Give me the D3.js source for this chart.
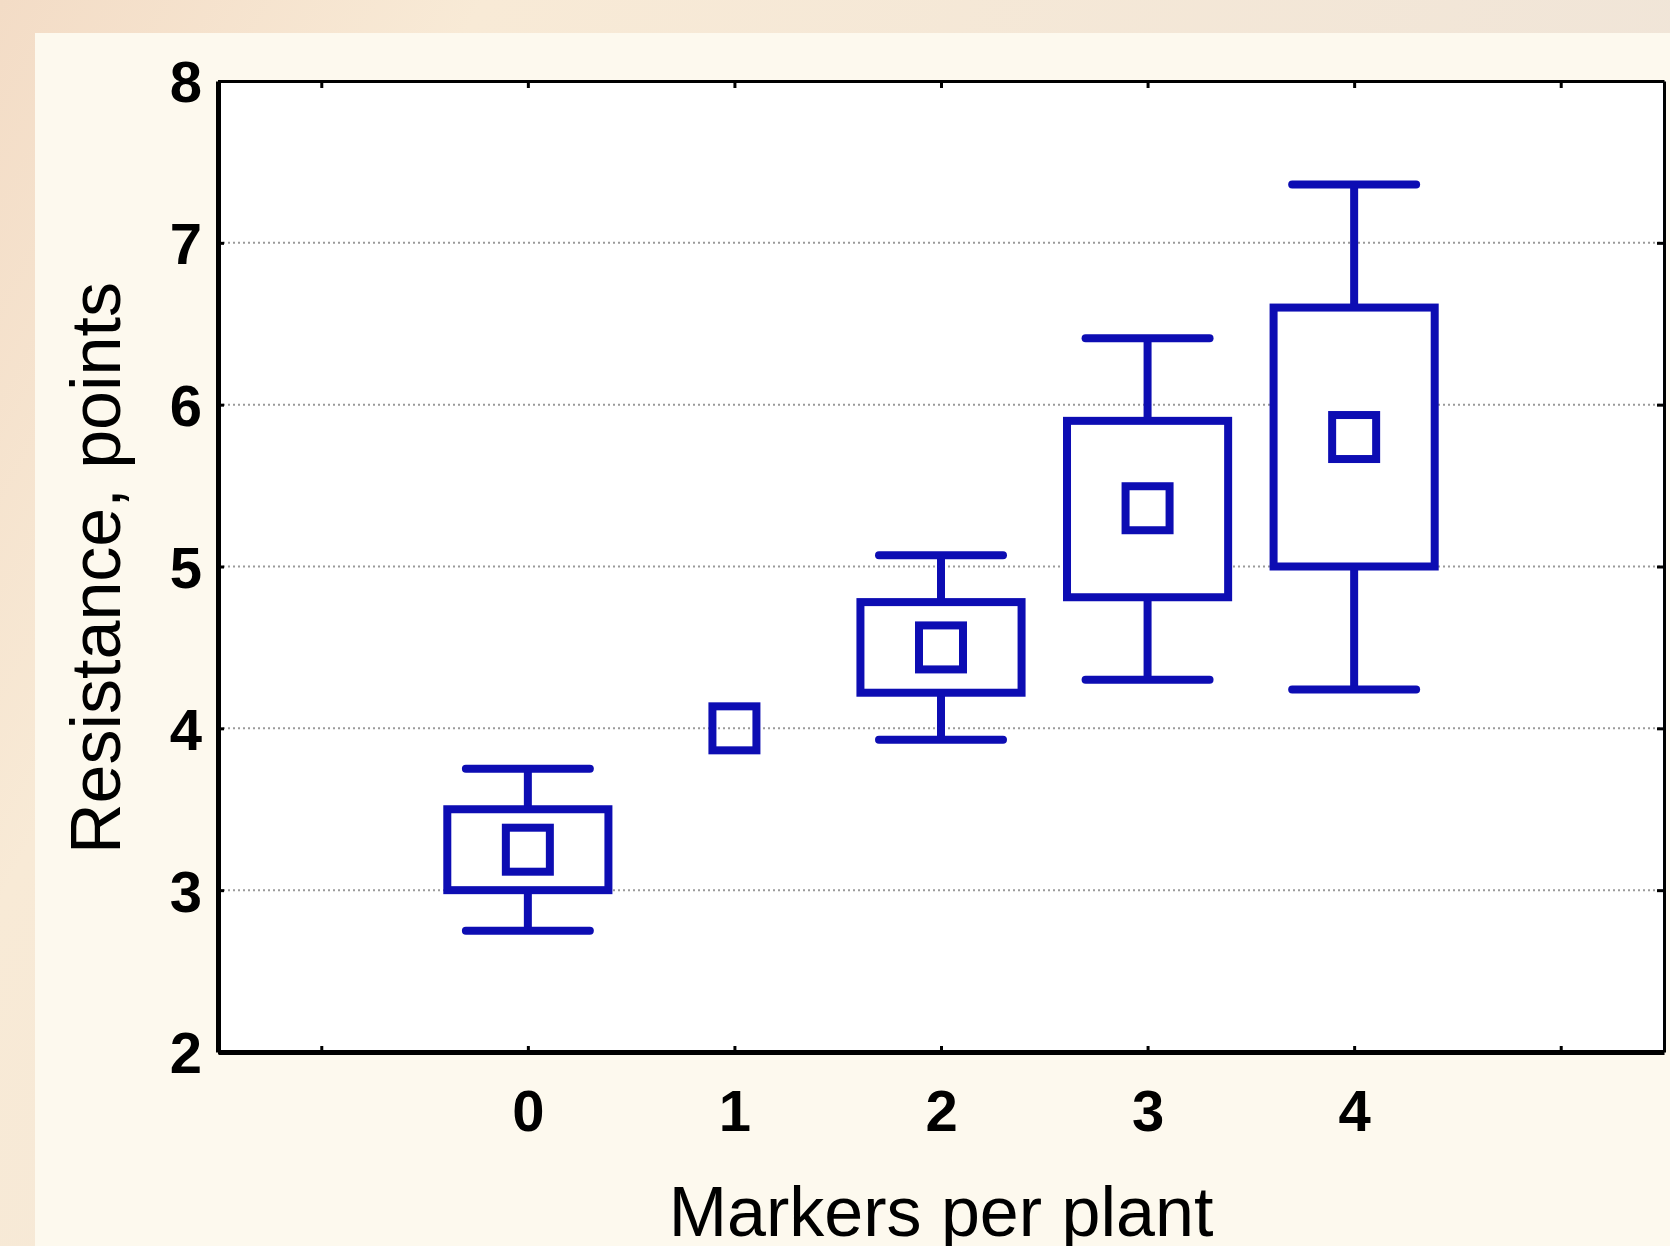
<!DOCTYPE html>
<html lang="en">
<head>
    <meta charset="UTF-8">
    <title>Resistance by markers per plant</title>
    <script src="https://d3js.org/d3.v7.min.js"></script>
    <style>
        body { margin: 0; background: #f4e6d6; }
        svg { display: block; }
        .tick text { font-family: "Liberation Sans", Arial, sans-serif; font-weight: bold; font-size: 58px; fill: #000; }
        .title { font-family: "Liberation Sans", Arial, sans-serif; font-size: 70px; fill: #000; }
    </style>
</head>
<body>
    <div id="chart"></div>

    <script>
        // values
        const categories = [0, 1, 2, 3, 4];
        const whiskerHigh = [3.75, null, 5.07, 6.41, 7.36];
        const boxHigh = [3.5, null, 4.78, 5.9, 6.6];
        const means = [3.25, 4.0, 4.5, 5.36, 5.8];
        const boxLow = [3.0, null, 4.22, 4.81, 5.0];
        const whiskerLow = [2.75, null, 3.93, 4.3, 4.24];
        const yTicks = [2, 3, 4, 5, 6, 7, 8];
        const frameTicks = [-1, 0, 1, 2, 3, 4, 5];

        const W = 1670, H = 1246;
        const mLeft = 218, mRight = 1664, mTop = 81, mBottom = 1052;
        const blue = "#0d0db3";

        const svg = d3.select("#chart").append("svg")
            .attr("width", W).attr("height", H);

        // backdrop
        const defs = svg.append("defs");
        const grad = defs.append("linearGradient").attr("id", "bg")
            .attr("x1", 0).attr("y1", 0).attr("x2", 1).attr("y2", 0.4);
        grad.append("stop").attr("offset", "0%").attr("stop-color", "#f3dcc6");
        grad.append("stop").attr("offset", "25%").attr("stop-color", "#f8ead6");
        grad.append("stop").attr("offset", "100%").attr("stop-color", "#efe4d8");
        svg.append("rect").attr("width", W).attr("height", H).attr("fill", "url(#bg)");
        svg.append("rect").attr("x", 35).attr("y", 33).attr("width", W - 35).attr("height", H - 33)
            .attr("fill", "#fdf9ee");

        const x = d3.scaleLinear().domain([-1.5, 5.5]).range([mLeft, mRight]);
        const y = d3.scaleLinear().domain([2, 8]).range([mBottom, mTop]);

        svg.append("rect").attr("x", mLeft).attr("y", mTop)
            .attr("width", mRight - mLeft).attr("height", mBottom - mTop).attr("fill", "#fff");

        // dotted grid
        svg.append("g").selectAll("line")
            .data(yTicks.filter(d => d > 2 && d < 8))
            .join("line")
            .attr("x1", mLeft).attr("x2", mRight)
            .attr("y1", d => y(d)).attr("y2", d => y(d))
            .attr("stroke", "#9a9a9a").attr("stroke-width", 2)
            .attr("stroke-dasharray", "2,3");

        // axes
        const xAxis = svg.append("g").attr("transform", `translate(0,${mBottom})`)
            .call(d3.axisBottom(x).tickValues(frameTicks).tickSizeInner(-6).tickSizeOuter(0)
                .tickPadding(38).tickFormat(d => categories.includes(d) ? d : ""));
        const yAxis = svg.append("g").attr("transform", `translate(${mLeft},0)`)
            .call(d3.axisLeft(y).tickValues(yTicks).tickSizeInner(-6).tickSizeOuter(0)
                .tickPadding(16).tickFormat(d3.format("d")));
        svg.append("g").attr("transform", `translate(0,${mTop})`)
            .call(d3.axisTop(x).tickValues(frameTicks).tickSizeInner(-7).tickSizeOuter(0).tickFormat(""));
        svg.append("g").attr("transform", `translate(${mRight},0)`)
            .call(d3.axisRight(y).tickValues(yTicks).tickSizeInner(-7).tickSizeOuter(0).tickFormat(""));

        svg.selectAll(".domain").attr("stroke", "#000").attr("stroke-width", 3);
        svg.selectAll(".tick line").attr("stroke", "#000").attr("stroke-width", 3);
        xAxis.select(".domain").attr("stroke-width", 5);
        yAxis.select(".domain").attr("stroke-width", 5);
        yAxis.selectAll(".tick text").attr("dy", "0.36em");

        // box plots
        const boxW = 0.78, capW = 0.6, markSize = 44;
        const groups = categories.map((c, i) => ({
            c, wh: whiskerHigh[i], bh: boxHigh[i], m: means[i], bl: boxLow[i], wl: whiskerLow[i]
        }));
        const plot = svg.append("g").attr("fill", "none").attr("stroke", blue).attr("stroke-width", 8);
        const withBox = groups.filter(d => d.bh != null);

        plot.selectAll(".whisker")
            .data(withBox.flatMap(d => [[d.c, d.bh, d.wh], [d.c, d.bl, d.wl]]))
            .join("line").attr("class", "whisker")
            .attr("x1", d => x(d[0])).attr("x2", d => x(d[0]))
            .attr("y1", d => y(d[1])).attr("y2", d => y(d[2]));

        plot.selectAll(".cap")
            .data(withBox.flatMap(d => [[d.c, d.wh], [d.c, d.wl]]))
            .join("line").attr("class", "cap")
            .attr("stroke-linecap", "round")
            .attr("x1", d => x(d[0] - capW / 2)).attr("x2", d => x(d[0] + capW / 2))
            .attr("y1", d => y(d[1])).attr("y2", d => y(d[1]));

        plot.selectAll(".box")
            .data(withBox)
            .join("rect").attr("class", "box")
            .attr("fill", "#fff")
            .attr("x", d => x(d.c - boxW / 2))
            .attr("width", d => x(d.c + boxW / 2) - x(d.c - boxW / 2))
            .attr("y", d => y(d.bh))
            .attr("height", d => y(d.bl) - y(d.bh));

        plot.selectAll(".mean")
            .data(groups)
            .join("rect").attr("class", "mean")
            .attr("x", d => x(d.c) - markSize / 2)
            .attr("y", d => y(d.m) - markSize / 2)
            .attr("width", markSize).attr("height", markSize);

        // axis titles
        svg.append("text").attr("class", "title")
            .attr("x", x(2)).attr("y", 1236)
            .attr("text-anchor", "middle")
            .text("Markers per plant");
        svg.append("text").attr("class", "title")
            .attr("transform", `translate(120,568) rotate(-90)`)
            .attr("text-anchor", "middle")
            .text("Resistance, points");
    </script>
</body>
</html>
